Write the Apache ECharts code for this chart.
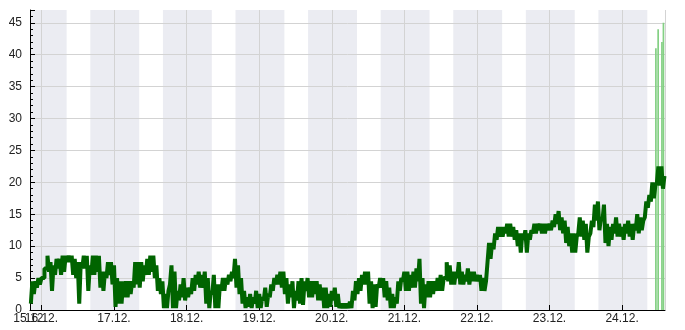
<!DOCTYPE html>
<html><head><meta charset="utf-8">
<script src="https://cdn.jsdelivr.net/npm/echarts@6/dist/echarts.min.js"></script>
<style>html,body{margin:0;padding:0;background:#fff}#c{width:685px;height:330px}</style>
</head><body><div id="c"></div>
<script>
// ---- data ----
const year = 2023;
const seriesStart = [12, 15, 20, 30];   // month, day, hour, minute of first sample
const axisEnd = [12, 24, 13, 54];
const stepMinutes = 60;                 // one low/high pair per hour
const speedLow = [
  1, 2.5, 3.5, 4, 5, 6.5, 6, 3, 5.5, 6.5,
  5.5, 6, 7.5, 7.5, 5.5, 5, 1, 6.5, 6.5, 3,
  5.5, 5.5, 6, 3.5, 3, 5, 5.5, 4, 0.5, 1,
  1, 2, 2, 2.5, 3.5, 4, 3.5, 4.5, 5.5, 5.5,
  6, 5, 3, 2.5, 0.3, 0.3, 4, 0.3, 0.3, 1.5,
  2, 1.5, 2, 2.5, 3, 4, 3.5, 3.5, 1, 0.3,
  2.5, 0.3, 0.3, 3, 3, 4, 4.5, 5, 3.5, 2.5,
  1, 0.3, 0.5, 0.3, 1, 0.3, 0.3, 1.5, 0.5, 2,
  3, 4, 4, 3.5, 2.5, 1, 2, 0.3, 1.5, 1,
  0.8, 3, 2, 2, 2.5, 1.5, 1.5, 0.3, 0.3, 0.5,
  1.5, 0.5, 0.3, 0.3, 0.3, 0.3, 0.3, 1.5, 2.5, 3,
  4, 4, 1, 0.3, 0.5, 3.5, 3.5, 2, 1.5, 0.3,
  0.3, 1, 3, 4.5, 3, 3, 3.5, 3.5, 4.5, 1,
  0.3, 2, 2, 2.5, 3, 3, 3, 5, 4.5, 4,
  4, 5, 4, 4, 4.5, 4, 4.5, 4.5, 4.5, 3,
  3, 7.5, 8, 9.5, 11, 11.5, 11.5, 12, 11.5, 11.5,
  11, 10, 9, 11, 9, 11, 12, 12, 12.5, 12,
  12, 12.5, 12.5, 13, 13.5, 12.5, 12, 10.5, 10, 9,
  9, 12, 11.5, 11, 9, 12, 13, 14, 12.5, 14,
  10.5, 10, 11, 12, 11.5, 11.5, 11, 12, 11.5, 11,
  12.5, 12, 12.5, 14.5, 16, 17, 17.5, 20, 19.5, 19
];
const speedHigh = [
  4.5, 4.5, 5, 5, 6.5, 8.5, 7.5, 7, 8, 8,
  8.5, 8.5, 8.5, 8.5, 8, 7.5, 7.5, 8.5, 8.5, 7,
  8.5, 8.5, 8.5, 6, 6, 7.5, 7.5, 7, 5, 4.5,
  4.5, 4.5, 4.5, 4.5, 7.5, 7.5, 7.5, 7, 8, 8.5,
  8.5, 7, 5, 4.5, 2.5, 3, 7, 6, 3, 4,
  5, 3.5, 3.5, 5, 5.5, 6, 5.5, 6, 5, 3,
  5.5, 4, 4, 5, 5, 5.5, 6, 8, 7, 5,
  3, 2, 2.5, 2, 3, 2.5, 2, 3.5, 2.5, 4,
  5, 5.5, 6, 6, 5, 4, 4.5, 3, 4.5, 5,
  4.5, 5, 4.5, 4.5, 4.5, 4, 3.5, 3.5, 2.5, 3,
  3.5, 2.5, 1, 1, 1, 1.3, 3, 4.5, 5, 5.5,
  6, 6, 4.5, 4, 4, 5, 5, 4.5, 3.5, 2.5,
  2, 4.5, 5, 6, 6, 5.5, 6, 6.5, 8, 5,
  4, 4.5, 4.5, 4.5, 5, 5.5, 5, 7.5, 7, 6,
  6, 7.5, 6, 5.5, 6.5, 6, 6, 5.5, 5.5, 5,
  4.5, 10.5, 10.5, 12, 13, 13, 13, 13.5, 13.5, 13,
  12.5, 12, 12, 12.5, 12, 12.5, 13.5, 13.5, 13.5, 13.5,
  13.5, 13.5, 14, 15, 15.5, 14.5, 14, 13, 12, 12,
  11.5, 14.5, 14, 13.5, 11.5, 14, 16.5, 17, 14.5, 16.5,
  13.5, 13, 13.5, 14.5, 13.5, 13, 13.5, 14, 13.5, 13.5,
  15, 14.5, 14, 17, 18, 20, 19.5, 22.5, 22.5, 21
];
const gustTimes = [[12, 24, 11, 10], [12, 24, 11, 55], [12, 24, 13, 10], [12, 24, 13, 40]];
const gustValues = [41, 44, 42, 45];
const nightStart = [16, 10];   // hour, minute
const nightEnd = [8, 20];
const yMin = 0, yMax = 47, yStep = 5;

// ---- build ----
const DAY = 86400000;
const ts = (a) => Date.UTC(year, a[0] - 1, a[1], a[2], a[3]);
const tStart = ts(seriesStart), tEnd = ts(axisEnd);
const speedData = [];
speedLow.forEach((lo, i) => {
  const t = tStart + i * stepMinutes * 60000;
  speedData.push([t, lo]);
  speedData.push([t + stepMinutes * 30000, speedHigh[i]]);
});
const gustData = gustTimes.map((t, i) => [ts(t), gustValues[i]]);
const bands = [];
for (let d = 14; d <= 24; d++) {
  const s = Date.UTC(year, 11, d, nightStart[0], nightStart[1]);
  const e = Date.UTC(year, 11, d + 1, nightEnd[0], nightEnd[1]);
  if (e <= tStart || s >= tEnd) continue;
  bands.push([Math.max(s, tStart), Math.min(e, tEnd), 0]);
}
const pad = n => (n < 10 ? '0' : '') + n;
const fmt = v => { const d = new Date(v); return pad(d.getUTCDate()) + '.' + (d.getUTCMonth() + 1) + '.'; };
const labelStyle = {fontSize: 12, color: '#222', fontFamily: 'Liberation Sans'};

const chart = echarts.init(document.getElementById('c'), null, {renderer: 'canvas'});
chart.setOption({
  useUTC: true,
  animation: false,
  textStyle: {fontFamily: 'Liberation Sans'},
  grid: {left: 30, right: 20, top: 10, bottom: 20},
  xAxis: [{
    type: 'time', position: 'bottom', min: tStart, max: tEnd, minInterval: DAY, maxInterval: DAY, z: 1.5,
    axisLine: {show: true, lineStyle: {color: '#000', width: 1}},
    axisTick: {show: true, inside: true, length: 5, lineStyle: {color: '#000'}},
    axisLabel: Object.assign({formatter: fmt, margin: 3, showMinLabel: false, showMaxLabel: false, interval: 0, hideOverlap: false}, labelStyle),
    splitLine: {show: true, lineStyle: {color: '#d3d3d3', width: 1}}
  }, {
    type: 'time', position: 'bottom', min: tStart, max: tEnd, minInterval: DAY, maxInterval: DAY, z: 1.5,
    axisLine: {show: false}, axisTick: {show: false}, splitLine: {show: false},
    axisLabel: Object.assign({formatter: v => (v === tStart ? fmt(v) : ''), margin: 3, showMinLabel: true, showMaxLabel: false, interval: 0}, labelStyle)
  }],
  yAxis: {
    type: 'value', min: yMin, max: yMax, interval: yStep, z: 1.5,
    axisLine: {show: true, lineStyle: {color: '#000', width: 1}},
    axisTick: {show: true, inside: true, length: 5, lineStyle: {color: '#000'}},
    minorTick: {show: true, splitNumber: 5, length: 3, lineStyle: {color: '#000'}},
    axisLabel: Object.assign({margin: 8, showMaxLabel: false}, labelStyle),
    splitLine: {show: true, showMaxLine: false, lineStyle: {color: '#d3d3d3', width: 1}}
  },
  series: [
    {
      type: 'custom', z: 1, silent: true, data: bands,
      encode: {x: [0, 1], y: 2},
      renderItem: (params, api) => {
        const p0 = api.coord([api.value(0), yMax]);
        const p1 = api.coord([api.value(1), yMin]);
        return {type: 'rect', shape: {x: p0[0], y: p0[1], width: p1[0] - p0[0], height: p1[1] - p0[1]}, style: {fill: '#ebecf2'}};
      }
    },
    {
      type: 'line', z: 3, data: speedData, showSymbol: false, step: 'end', clip: true,
      lineStyle: {color: '#006400', width: 4, join: 'bevel', cap: 'butt'}
    },
    {
      type: 'bar', z: 3, data: gustData, barWidth: 1.7, itemStyle: {color: '#84d084'}
    }
  ]
});
</script></body></html>
